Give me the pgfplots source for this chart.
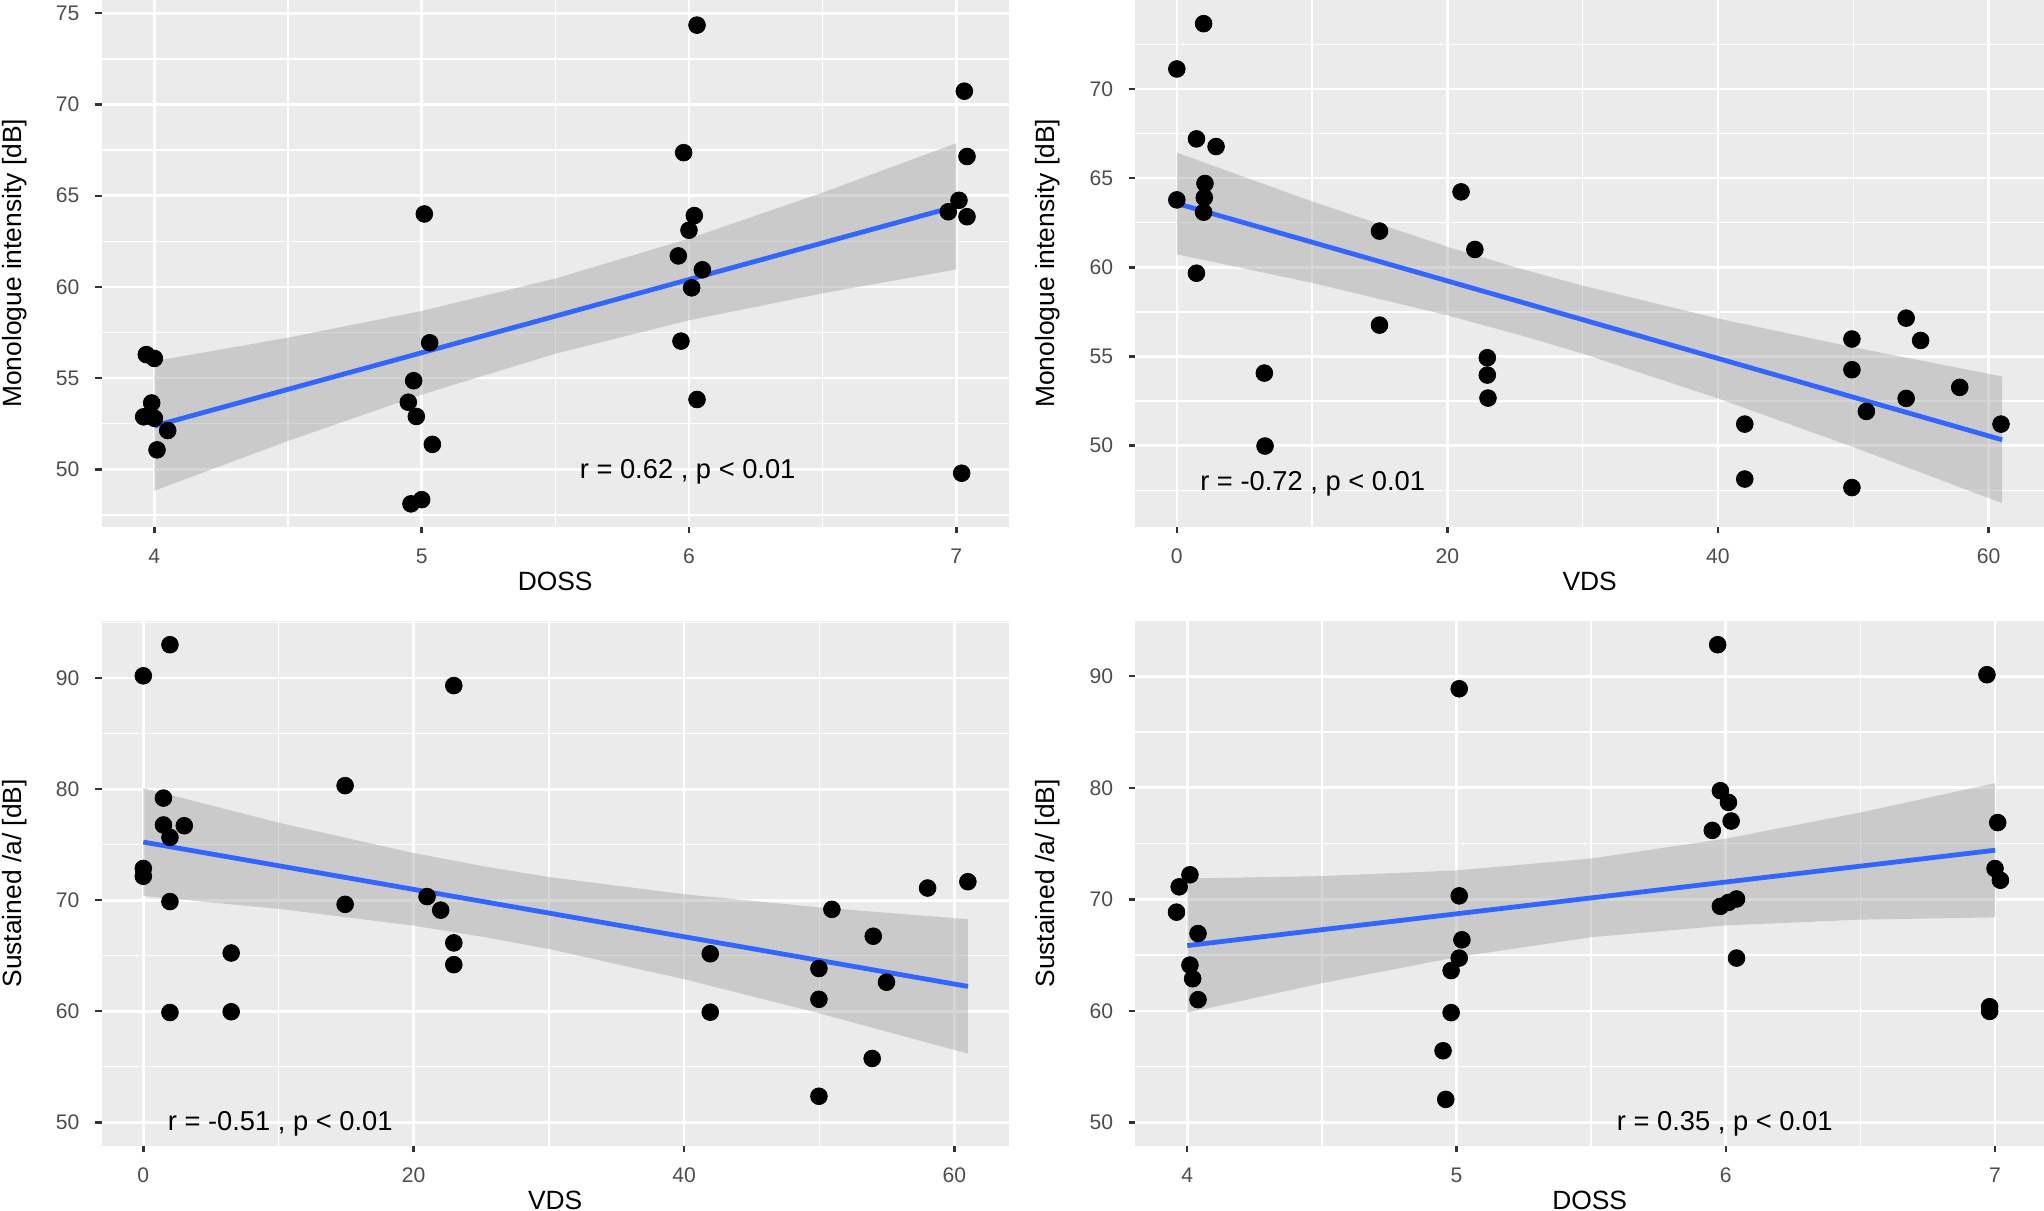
\documentclass[border=0pt]{standalone}
\usepackage{pgfplots}
\pgfplotsset{compat=1.18}
\usepackage{fontspec}
\setmainfont{Liberation Sans}
\definecolor{panelbg}{HTML}{EBEBEB}
\definecolor{ticklab}{HTML}{4D4D4D}
\definecolor{tickcol}{HTML}{333333}
\definecolor{bandfill}{HTML}{999999}
\definecolor{fitblue}{HTML}{3366FF}
\tikzset{ann/.style={font=\fontsize{11.38}{13}\selectfont, inner sep=0pt}}
\pgfplotsset{
  gg/.style={
    scale only axis,
    axis background/.style={fill=panelbg},
    axis x line*=bottom, axis y line*=left,
    axis line style={draw=none},
    tick align=outside,
    major tick length=2.75pt,
    minor tick length=0pt,
    tick style={color=tickcol, line width=1pt},
    grid=both,
    major grid style={white, line width=1.1pt},
    minor grid style={white, line width=0.55pt},
    tick label style={font=\fontsize{8.8}{10}\selectfont, text=ticklab},
    /pgf/number format/assume math mode=true,
    xticklabel style={anchor=north, inner sep=0pt, yshift=-6.25pt},
    yticklabel style={anchor=east, inner sep=0pt, xshift=-6.3pt},
    every axis x label/.style={at={(axis description cs:0.5,0)}, anchor=base, yshift=-26.5pt, font=\fontsize{11}{13}\selectfont, inner sep=0pt},
    every axis y label/.style={at={(axis description cs:0,0.5)}, xshift=-36.4pt, rotate=90, anchor=center, font=\fontsize{11}{13}\selectfont, inner sep=0pt},
  },
  pts/.style={only marks, mark=*, mark size=3.5pt, black, mark options={line width=0.3pt}},
  band/.style={draw=none, fill=bandfill, fill opacity=0.4},
  fit/.style={color=fitblue, line width=2pt},
}
\begin{document}
\begin{tikzpicture}
\useasboundingbox (0,0) rectangle (851.67pt,504.58pt);
% ---------- Panel 1: DOSS vs Monologue ----------
\begin{axis}[gg, at={(42.37pt,285.13pt)}, anchor=south west,
  width=377.92pt, height=219.46pt,
  xmin=3.803, xmax=7.196, ymin=46.86, ymax=75.73,
  xtick={4,5,6,7}, ytick={50,55,60,65,70,75},
  minor xtick={4.5,5.5,6.5}, minor ytick={47.5,52.5,57.5,62.5,67.5,72.5},
  xlabel={DOSS}, ylabel={Monologue intensity [dB]}]
\addplot[pts] coordinates {
(6.03,74.35) (7.03,70.73) (7.04,67.15) (5.98,67.36) (5.01,64.00) (6.02,63.91)
(6.00,63.11) (7.01,64.75) (6.97,64.12) (7.04,63.85) (5.96,61.70) (6.05,60.94)
(6.01,59.95) (5.97,57.03) (6.03,53.83) (7.02,49.79) (5.03,56.94) (4.97,54.86)
(4.95,53.68) (4.98,52.90) (5.04,51.37) (5.00,48.34) (4.96,48.11) (3.97,56.29)
(4.00,56.08) (3.99,53.64) (3.96,52.88) (4.00,52.80) (4.05,52.13) (4.01,51.07)};
\addplot[band] coordinates {
(4,55.93) (4.5,57.22) (5,58.68) (5.5,60.46) (6,62.65) (6.5,65.17) (7,67.88)
(7,60.96) (6.5,59.65) (6,58.17) (5.5,56.34) (5,54.10) (4.5,51.56) (4,48.83)};
\addplot[fit] coordinates {(4,52.38) (7,64.42)};
\node[ann] at (axis cs:5.995,49.85) {r = 0.62 , p < 0.01};
\end{axis}
% ---------- Panel 2: VDS vs Monologue ----------
\begin{axis}[gg, at={(473.04pt,285.13pt)}, anchor=south west,
  width=378.63pt, height=219.46pt,
  xmin=-3.07, xmax=64.1, ymin=45.46, ymax=74.99,
  xtick={0,20,40,60}, ytick={50,55,60,65,70},
  minor xtick={10,30,50}, minor ytick={47.5,52.5,57.5,62.5,67.5,72.5},
  xlabel={VDS}, ylabel={Monologue intensity [dB]}]
\addplot[pts] coordinates {
(1.98,73.66) (0,71.12) (1.45,67.20) (2.90,66.77) (2.08,64.70) (2.03,63.91)
(1.98,63.09) (0,63.78) (1.45,59.67) (21.01,64.23) (14.98,62.03) (22.03,61.00)
(14.98,56.76) (6.47,54.07) (6.52,49.98) (22.95,54.93) (22.95,53.96) (23.00,52.67)
(41.98,51.21) (41.98,48.13) (49.90,55.98) (49.90,54.26) (49.90,47.65) (50.97,51.92)
(53.91,57.15) (54.98,55.90) (53.91,52.65) (57.87,53.27) (60.92,51.21)};
\addplot[band] coordinates {
(0,66.43) (10,63.69) (20,61.15) (25.4,59.92) (30,58.97) (40,57.13) (50,55.52) (61,53.88)
(61,46.78) (50,49.92) (40,52.65) (30,55.16) (25.4,56.19) (20,57.31) (10,59.13) (0,60.73)};
\addplot[fit] coordinates {(0,63.58) (61,50.33)};
\node[ann, anchor=west] at (axis cs:1.7,47.89) {r = -0.72 , p < 0.01};
\end{axis}
% ---------- Panel 3: VDS vs Sustained ----------
\begin{axis}[gg, at={(42.37pt,27.21pt)}, anchor=south west,
  width=377.92pt, height=218.63pt,
  xmin=-3.08, xmax=64.02, ymin=47.9, ymax=95.15,
  xtick={0,20,40,60}, ytick={50,60,70,80,90},
  minor xtick={10,30,50}, minor ytick={55,65,75,85,95},
  xlabel={VDS}, ylabel={Sustained /a/ [dB]}]
\addplot[pts] coordinates {
(1.97,93.01) (0,90.21) (22.97,89.33) (14.93,80.32) (1.49,79.20) (1.49,76.78)
(3.03,76.71) (1.97,75.66) (0,72.86) (0,72.16) (1.97,69.88) (14.93,69.63)
(20.99,70.33) (22.00,69.11) (22.97,66.16) (22.97,64.20) (6.50,65.25) (1.97,59.89)
(6.50,59.96) (41.94,65.18) (41.94,59.92) (49.98,63.85) (49.98,61.08) (49.98,52.35)
(50.94,69.18) (54.00,66.76) (53.92,55.75) (54.98,62.62) (58.02,71.10) (61.00,71.67)};
\addplot[band] coordinates {
(0,80.10) (10,76.99) (20,74.25) (25.4,73.01) (30,72.09) (40,70.54) (50,69.36) (61,68.29)
(61,56.19) (50,59.82) (40,62.90) (30,65.61) (25.4,66.65) (20,67.71) (10,69.23) (0,70.38)};
\addplot[fit] coordinates {(0,75.24) (61,62.24)};
\node[ann, anchor=west] at (axis cs:1.78,49.9) {r = -0.51 , p < 0.01};
\end{axis}
% ---------- Panel 4: DOSS vs Sustained ----------
\begin{axis}[gg, at={(473.04pt,27.21pt)}, anchor=south west,
  width=378.63pt, height=218.63pt,
  xmin=3.807, xmax=7.182, ymin=47.91, ymax=94.96,
  xtick={4,5,6,7}, ytick={50,60,70,80,90},
  minor xtick={4.5,5.5,6.5}, minor ytick={55,65,75,85},
  xlabel={DOSS}, ylabel={Sustained /a/ [dB]}]
\addplot[pts] coordinates {
(5.97,92.83) (6.97,90.14) (5.01,88.88) (5.98,79.74) (6.01,78.69) (6.02,77.02)
(5.95,76.18) (7.01,76.88) (7.00,72.76) (7.02,71.71) (5.98,69.37) (6.01,69.72)
(6.04,70.03) (6.04,64.73) (6.98,60.37) (6.98,59.95) (5.01,70.31) (5.02,66.37)
(5.01,64.73) (4.98,63.61) (4.98,59.84) (4.95,56.42) (4.96,52.06) (4.01,72.20)
(3.97,71.12) (3.96,68.85) (4.04,66.93) (4.01,64.10) (4.02,62.88) (4.04,61.00)};
\addplot[band] coordinates {
(4,71.87) (4.5,72.08) (5,72.59) (5.5,73.66) (6,75.44) (6.5,77.78) (7,80.42)
(7,68.38) (6.5,68.18) (6,67.66) (5.5,66.60) (5,64.81) (4.5,62.48) (4,59.83)};
\addplot[fit] coordinates {(4,65.85) (7,74.40)};
\node[ann] at (axis cs:5.996,49.83) {r = 0.35 , p < 0.01};
\end{axis}
\end{tikzpicture}
\end{document}
